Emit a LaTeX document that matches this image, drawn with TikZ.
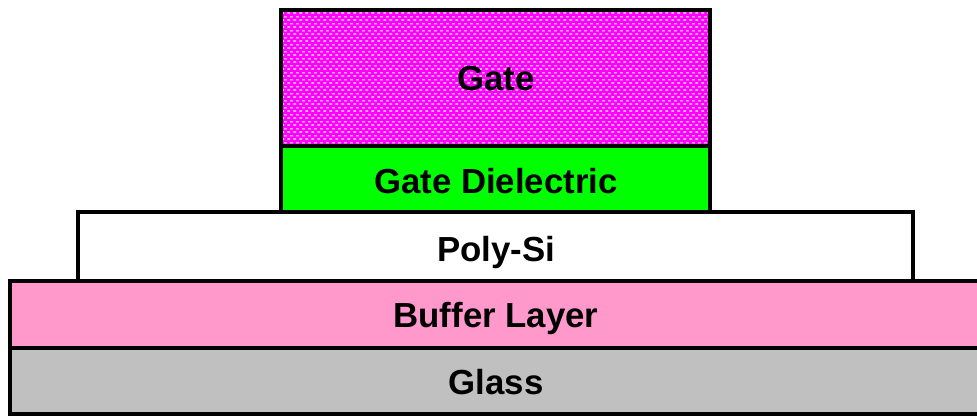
\documentclass[tikz,border=0pt]{standalone}
\usepackage{fontspec}
\setmainfont{Liberation Sans}
\usetikzlibrary{patterns.meta}
\definecolor{gatemag}{HTML}{FF00FF}
\definecolor{dielgreen}{HTML}{00FF00}
\definecolor{bufpink}{HTML}{FF99CC}
\definecolor{glassgray}{HTML}{C0C0C0}
\tikzdeclarepattern{name=gatedash, type=uncolored,
  bottom left={(0pt,0pt)}, top right={(6.4pt,6.6pt)}, tile size={(6.4pt,6.6pt)},
  code={\fill (0.3pt,0.5pt) rectangle (3.3pt,1.7pt);
        \fill (3.5pt,3.8pt) rectangle (6.5pt,5.0pt);}}
\begin{document}
\begin{tikzpicture}[x=1pt,y=-1pt,
  layerbox/.style={draw=black, line width=4pt, line join=miter},
  layerlabel/.style={font=\fontsize{34.8}{40}\selectfont\bfseries, inner sep=0pt, anchor=base}]
\useasboundingbox (0,0) rectangle (977,417);
\clip (0,0) rectangle (977,417);
\draw[layerbox, fill=glassgray] (10,348) rectangle (995,414);
\draw[layerbox, fill=bufpink] (10,281) rectangle (995,348);
\draw[layerbox, fill=white] (78,212) rectangle (913,281);
\draw[layerbox, fill=dielgreen] (281,146) rectangle (710,212);
\fill[gatemag] (281,10) rectangle (710,146);
\fill[pattern=gatedash, pattern color=white] (281,10) rectangle (710,146);
\draw[layerbox] (281,10) rectangle (710,146);
\node[layerlabel] (gate) at (496,90.5) {Gate};
\node[layerlabel] (diel) at (496,193.5) {Gate Dielectric};
\node[layerlabel] (poly) at (496,261) {Poly-Si};
\node[layerlabel] (buffer) at (496,327) {Buffer Layer};
\node[layerlabel] (glass) at (496,394) {Glass};
\end{tikzpicture}
\end{document}
